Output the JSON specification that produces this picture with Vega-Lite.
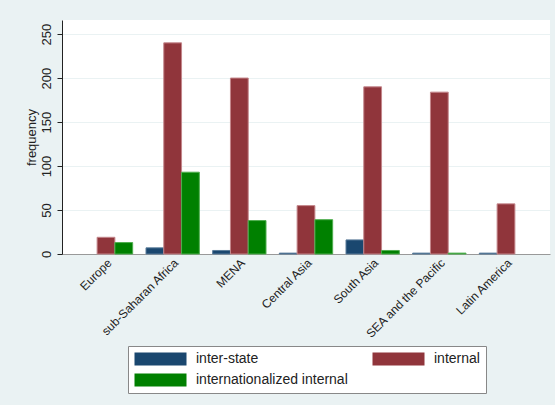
{
  "$schema": "https://vega.github.io/schema/vega-lite/v6.json",
  "autosize": "none",
  "width": 488,
  "height": 234,
  "padding": {"left": 62, "top": 20, "right": 5, "bottom": 151},
  "background": "#EAF2F3",
  "data": {"values": [
    {"region": "Europe", "type": "inter-state", "n": 0},
    {"region": "Europe", "type": "internal", "n": 19},
    {"region": "Europe", "type": "internationalized internal", "n": 13},
    {"region": "sub-Saharan Africa", "type": "inter-state", "n": 7},
    {"region": "sub-Saharan Africa", "type": "internal", "n": 240},
    {"region": "sub-Saharan Africa", "type": "internationalized internal", "n": 93},
    {"region": "MENA", "type": "inter-state", "n": 4},
    {"region": "MENA", "type": "internal", "n": 200},
    {"region": "MENA", "type": "internationalized internal", "n": 38},
    {"region": "Central Asia", "type": "inter-state", "n": 1},
    {"region": "Central Asia", "type": "internal", "n": 55},
    {"region": "Central Asia", "type": "internationalized internal", "n": 39},
    {"region": "South Asia", "type": "inter-state", "n": 16},
    {"region": "South Asia", "type": "internal", "n": 190},
    {"region": "South Asia", "type": "internationalized internal", "n": 4},
    {"region": "SEA and the Pacific", "type": "inter-state", "n": 1},
    {"region": "SEA and the Pacific", "type": "internal", "n": 184},
    {"region": "SEA and the Pacific", "type": "internationalized internal", "n": 1},
    {"region": "Latin America", "type": "inter-state", "n": 1},
    {"region": "Latin America", "type": "internal", "n": 57},
    {"region": "Latin America", "type": "internationalized internal", "n": 0}
  ]},
  "mark": {"type": "bar", "strokeWidth": 1},
  "encoding": {
    "x": {
      "field": "region", "type": "nominal", "sort": null,
      "scale": {"paddingInner": 0.2, "paddingOuter": 0.26},
      "axis": {"title": null, "labelAngle": -45, "labelAlign": "right", "labelBaseline": "top", "labelFontSize": 12, "labelColor": "#222", "labelFont": "Liberation Sans", "ticks": false, "domainColor": "#999", "labelPadding": 3, "grid": false}
    },
    "xOffset": {"field": "type", "type": "nominal", "sort": ["inter-state", "internal", "internationalized internal"]},
    "y": {
      "field": "n", "type": "quantitative",
      "scale": {"domain": [0, 266], "nice": false},
      "axis": {"title": "frequency", "values": [0, 50, 100, 150, 200, 250], "labelAngle": 270, "labelAlign": "center", "labelBaseline": "bottom", "labelFontSize": 13, "labelFont": "Liberation Sans", "labelColor": "#222", "titleFont": "Liberation Sans", "titleFontSize": 13, "titleFontWeight": "normal", "titleColor": "#222", "titlePadding": 2, "tickSize": 5, "tickColor": "#222", "domainColor": "#222", "gridColor": "#EAF2F3", "labelPadding": 4}
    },
    "color": {
      "field": "type", "type": "nominal", "sort": ["inter-state", "internal", "internationalized internal"],
      "scale": {"domain": ["inter-state", "internal", "internationalized internal"], "range": ["#1a476f", "#90353b", "#008000"]},
      "legend": {
        "title": null, "orient": "none", "legendX": 66, "legendY": 326, "columns": 2, "direction": "horizontal",
        "columnPadding": 24, "rowPadding": 7, "padding": 6,
        "symbolType": "M-1,-1H7V1H-1Z", "symbolSize": 169, "symbolStrokeWidth": 0,
        "labelFontSize": 14, "labelFont": "Liberation Sans", "labelColor": "#222", "labelOffset": 48,
        "fillColor": "white", "strokeColor": "#888"
      }
    },
    "stroke": {
      "field": "type", "type": "nominal",
      "scale": {"domain": ["inter-state", "internal", "internationalized internal"], "range": ["#5a7c9a", "#c4868b", "#4fae4f"]},
      "legend": null
    },
    "strokeOpacity": {"condition": {"test": "datum.n > 0", "value": 1}, "value": 0}
  },
  "config": {"view": {"fill": "white", "stroke": null}, "font": "Liberation Sans"}
}
